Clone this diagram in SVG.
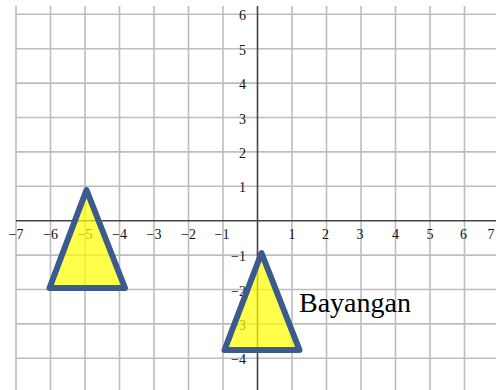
<svg xmlns="http://www.w3.org/2000/svg" width="496" height="390" viewBox="0 0 496 390">
<style>
.g{stroke:#bdbdbd;stroke-width:1.6;fill:none}
.ax{stroke:#444;stroke-width:1.6;fill:none}
.t{font-family:"Liberation Serif","Times New Roman",serif;font-size:14px;fill:#111}
.tx{text-anchor:middle}
.ty{text-anchor:end}
.tri{fill:#ffff00;fill-opacity:0.7;stroke:#3a5b8b;stroke-width:6;stroke-linejoin:round}
.lbl{font-family:"Liberation Serif","Times New Roman",serif;font-size:28px;fill:#000}
</style>
<rect width="496" height="390" fill="#fff"/>
<g id="grid">
<path class="g" d="M16 6V390M50.5 6V390M85 6V390M119.5 6V390M154 6V390M188.5 6V390M223 6V390M292 6V390M326.5 6V390M361 6V390M395.5 6V390M430 6V390M464.5 6V390"/>
<path class="g" d="M16 14.3H496M16 48.7H496M16 83.1H496M16 117.5H496M16 151.9H496M16 186.3H496M16 255.1H496M16 289.5H496M16 323.9H496M16 358.3H496"/>
</g>
<g id="axes">
<path class="ax" d="M16 220.7H496M257.5 6V390"/>
</g>
<g id="x-labels" class="t tx">
<text x="16" y="239">−7</text>
<text x="50.5" y="239">−6</text>
<text x="85" y="239">−5</text>
<text x="119.5" y="239">−4</text>
<text x="154" y="239">−3</text>
<text x="188.5" y="239">−2</text>
<text x="222" y="239">−1</text>
<text x="292" y="239">1</text>
<text x="325.5" y="239">2</text>
<text x="360" y="239">3</text>
<text x="395.5" y="239">4</text>
<text x="430" y="239">5</text>
<text x="463.5" y="239">6</text>
<text x="491" y="239">7</text>
</g>
<g id="y-labels" class="t ty">
<text x="246" y="20.3">6</text>
<text x="246" y="54.7">5</text>
<text x="246" y="89.1">4</text>
<text x="246" y="123.5">3</text>
<text x="246" y="157.9">2</text>
<text x="246" y="192.3">1</text>
<text x="246" y="261.1">−1</text>
<text x="246" y="295.5">−2</text>
<text x="246" y="329.9">−3</text>
<text x="246" y="364.3">−4</text>
</g>
<g id="triangle-original">
<polygon class="tri" points="86.5,190 49.5,288 125,288"/>
</g>
<g id="triangle-image">
<polygon class="tri" points="261.5,253 224.5,350 299.5,350"/>
</g>
<g id="label-bayangan">
<text class="lbl" x="299" y="312">Bayangan</text>
</g>
</svg>
